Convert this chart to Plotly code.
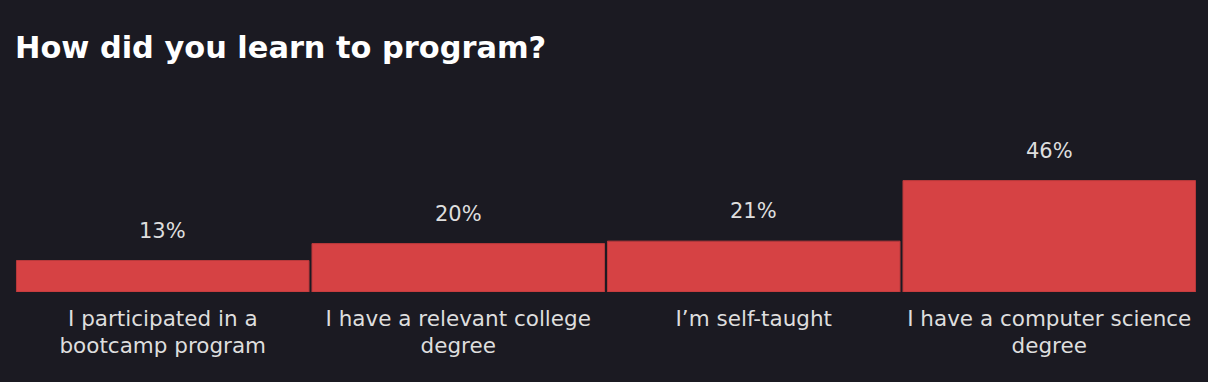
import plotly.graph_objects as go

categories = ["I participated in a<br>bootcamp program",
              "I have a relevant college<br>degree",
              "I’m self-taught",
              "I have a computer science<br>degree"]
values = [13, 20, 21, 46]
labels = ["13%", "20%", "21%", "46%"]

BG = "#1b1a22"
RED = "#d64244"
FONT = "DejaVu Sans"

fig = go.Figure()
fig.add_trace(go.Bar(
    x=categories, y=values,
    marker=dict(color=RED, line=dict(color="#b8393b", width=1)),
    hoverinfo="skip",
))
for c, v, t in zip(categories, values, labels):
    fig.add_annotation(x=c, y=v, text=t, showarrow=False, yanchor="bottom",
                       yshift=16, font=dict(family=FONT, size=21, color="#dedede"))

fig.update_layout(
    width=1208, height=382,
    paper_bgcolor=BG, plot_bgcolor=BG,
    margin=dict(l=15, r=11, t=120, b=90),
    bargap=0.01,
    showlegend=False,
    title=dict(text="<b>How did you learn to program?</b>", x=0.0124, xanchor="left",
               y=1 - 47/382, yanchor="middle",
               font=dict(family=FONT, size=30.4, color="#ffffff")),
    xaxis=dict(showgrid=False, zeroline=False, showline=False, ticks="",
               tickfont=dict(family=FONT, size=21.5, color="#dedede"),
               ticklabelstandoff=11),
    yaxis=dict(visible=False, range=[0, 71], fixedrange=True),
)

fig.write_html("out.html")
